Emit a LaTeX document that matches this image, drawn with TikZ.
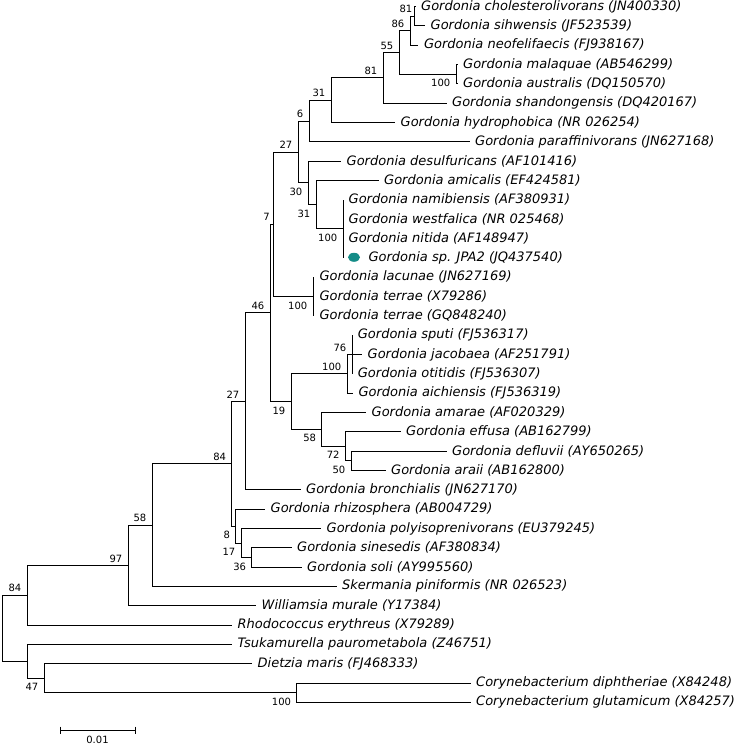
\documentclass[tikz,border=0pt]{standalone}
\usepackage{fontspec}
\setmainfont{DejaVu Sans}
\usetikzlibrary{shapes.geometric}
\definecolor{dotteal}{RGB}{20,140,135}
\newcommand{\leaffont}{\fontsize{13}{15}\selectfont\itshape}
\newcommand{\numfont}{\fontsize{10}{12}\selectfont}
\begin{document}
\begin{tikzpicture}[x=1pt,y=-1pt,
  leaf/.style={anchor=west,inner xsep=5.5pt,inner ysep=0pt,font=\leaffont},
  bsa/.style={anchor=south east,inner sep=0pt,font=\numfont,xshift=-5.5pt,yshift=3pt},
  bsb/.style={anchor=north east,inner sep=0pt,font=\numfont,xshift=-5.5pt,yshift=-5pt},
  branch/.style={draw=black,line width=0.8pt}]
\useasboundingbox (0,0) rectangle (738,745);
% internal nodes
\coordinate (n81a) at (414,16.17);
\coordinate (n86) at (410,30.66);
\coordinate (n100a) at (456,74.16);
\coordinate (n55) at (399,52.41);
\coordinate (n81b) at (383,77.78);
\coordinate (n31a) at (331,100.13);
\coordinate (n6) at (309,120.97);
\coordinate (n100b) at (343,228.8);
\coordinate (n31b) at (316,204.63);
\coordinate (n30) at (308,182.89);
\coordinate (n27a) at (298,151.93);
\coordinate (n100c) at (313,296.45);
\coordinate (n7) at (273,224.19);
\coordinate (n76) at (352,354.44);
\coordinate (n100d) at (347,373.77);
\coordinate (n50) at (351,460.76);
\coordinate (n72) at (345.3,446.26);
\coordinate (n58i) at (321.7,429.35);
\coordinate (n19) at (291,401.56);
\coordinate (n46) at (270,312.88);
\coordinate (n27b) at (245,401.31);
\coordinate (n36) at (251.7,557.41);
\coordinate (n17) at (241,542.91);
\coordinate (n8) at (235.7,526.0);
\coordinate (n84b) at (231.7,463.65);
\coordinate (n58o) at (152,525.03);
\coordinate (n97) at (128,565.38);
\coordinate (n84) at (27,595.22);
\coordinate (nC) at (296.7,692.72);
\coordinate (nD) at (44,678.22);
\coordinate (n47) at (27,661.3);
\coordinate (root) at (2,628.26);
% leaves
\node[leaf] (l1) at (415.5,6.5) {Gordonia cholesterolivorans (JN400330)};
\node[leaf] (l2) at (425,25.83) {Gordonia sihwensis (JF523539)};
\node[leaf] (l3) at (418.3,45.16) {Gordonia neofelifaecis (FJ938167)};
\node[leaf] (l4) at (457.5,64.49) {Gordonia malaquae (AB546299)};
\node[leaf] (l5) at (457.5,83.82) {Gordonia australis (DQ150570)};
\node[leaf] (l6) at (446.5,103.15) {Gordonia shandongensis (DQ420167)};
\node[leaf] (l7) at (395,122.48) {Gordonia hydrophobica (NR 026254)};
\node[leaf] (l8) at (469.5,141.81) {Gordonia paraffinivorans (JN627168)};
\node[leaf] (l9) at (341,161.14) {Gordonia desulfuricans (AF101416)};
\node[leaf] (l10) at (378.5,180.47) {Gordonia amicalis (EF424581)};
\node[leaf] (l11) at (343,199.8) {Gordonia namibiensis (AF380931)};
\node[leaf] (l12) at (343,219.13) {Gordonia westfalica (NR 025468)};
\node[leaf] (l13) at (343,238.46) {Gordonia nitida (AF148947)};
\coordinate (e14) at (343,257.79);
\node[ellipse,fill=dotteal,minimum width=12pt,minimum height=9pt,inner sep=0pt] (dot) at (354,257.3) {};
\node[leaf,inner xsep=0pt] (l14) at (368.3,257.79) {Gordonia sp. JPA2 (JQ437540)};
\node[leaf] (l15) at (313.8,277.12) {Gordonia lacunae (JN627169)};
\node[leaf] (l16) at (313.8,296.45) {Gordonia terrae (X79286)};
\node[leaf] (l17) at (313.8,315.78) {Gordonia terrae (GQ848240)};
\node[leaf] (l18) at (352.2,335.11) {Gordonia sputi (FJ536317)};
\node[leaf] (l19) at (362,354.44) {Gordonia jacobaea (AF251791)};
\node[leaf] (l20) at (352.2,373.77) {Gordonia otitidis (FJ536307)};
\node[leaf] (l21) at (352.8,393.1) {Gordonia aichiensis (FJ536319)};
\node[leaf] (l22) at (366,412.43) {Gordonia amarae (AF020329)};
\node[leaf] (l23) at (400.5,431.76) {Gordonia effusa (AB162799)};
\node[leaf] (l24) at (446.5,451.09) {Gordonia defluvii (AY650265)};
\node[leaf] (l25) at (385.5,470.42) {Gordonia araii (AB162800)};
\node[leaf] (l26) at (300.5,489.75) {Gordonia bronchialis (JN627170)};
\node[leaf] (l27) at (265,509.08) {Gordonia rhizosphera (AB004729)};
\node[leaf] (l28) at (321,528.41) {Gordonia polyisoprenivorans (EU379245)};
\node[leaf] (l29) at (291.5,547.74) {Gordonia sinesedis (AF380834)};
\node[leaf] (l30) at (301.5,567.07) {Gordonia soli (AY995560)};
\node[leaf] (l31) at (336.5,586.4) {Skermania piniformis (NR 026523)};
\node[leaf] (l32) at (256,605.73) {Williamsia murale (Y17384)};
\node[leaf] (l33) at (232,625.06) {Rhodococcus erythreus (X79289)};
\node[leaf] (l34) at (232,644.39) {Tsukamurella paurometabola (Z46751)};
\node[leaf] (l35) at (252,663.72) {Dietzia maris (FJ468333)};
\node[leaf] (l36) at (470.5,683.05) {Corynebacterium diphtheriae (X84248)};
\node[leaf] (l37) at (470.5,702.38) {Corynebacterium glutamicum (X84257)};
% branches
\draw[branch] (n81a) |- (l1.west) (n81a) |- (l2.west);
\draw[branch] (n86) |- (n81a) (n86) |- (l3.west);
\draw[branch] (n100a) |- (l4.west) (n100a) |- (l5.west);
\draw[branch] (n55) |- (n86) (n55) |- (n100a);
\draw[branch] (n81b) |- (n55) (n81b) |- (l6.west);
\draw[branch] (n31a) |- (n81b) (n31a) |- (l7.west);
\draw[branch] (n6) |- (n31a) (n6) |- (l8.west);
\draw[branch] (n100b) |- (l11.west) (n100b) |- (l12.west) (n100b) |- (l13.west) (n100b) |- (e14);
\draw[branch] (n31b) |- (l10.west) (n31b) |- (n100b);
\draw[branch] (n30) |- (l9.west) (n30) |- (n31b);
\draw[branch] (n27a) |- (n6) (n27a) |- (n30);
\draw[branch] (n100c) |- (l15.west) (n100c) |- (l16.west) (n100c) |- (l17.west);
\draw[branch] (n7) |- (n27a) (n7) |- (n100c);
\draw[branch] (n76) |- (l18.west) (n76) |- (l19.west) (n76) |- (l20.west);
\draw[branch] (n100d) |- (n76) (n100d) |- (l21.west);
\draw[branch] (n50) |- (l24.west) (n50) |- (l25.west);
\draw[branch] (n72) |- (l23.west) (n72) |- (n50);
\draw[branch] (n58i) |- (l22.west) (n58i) |- (n72);
\draw[branch] (n19) |- (n100d) (n19) |- (n58i);
\draw[branch] (n46) |- (n7) (n46) |- (n19);
\draw[branch] (n27b) |- (n46) (n27b) |- (l26.west);
\draw[branch] (n36) |- (l29.west) (n36) |- (l30.west);
\draw[branch] (n17) |- (l28.west) (n17) |- (n36);
\draw[branch] (n8) |- (l27.west) (n8) |- (n17);
\draw[branch] (n84b) |- (n27b) (n84b) |- (n8);
\draw[branch] (n58o) |- (n84b) (n58o) |- (l31.west);
\draw[branch] (n97) |- (n58o) (n97) |- (l32.west);
\draw[branch] (n84) |- (n97) (n84) |- (l33.west);
\draw[branch] (nC) |- (l36.west) (nC) |- (l37.west);
\draw[branch] (nD) |- (l35.west) (nD) |- (nC);
\draw[branch] (n47) |- (l34.west) (n47) |- (nD);
\draw[branch] (root) |- (n84) (root) |- (n47);
% bootstrap values
\node[bsa,xshift=4pt] (b81a) at (n81a) {81};
\node[bsa] (b86) at (n86) {86};
\node[bsa] (b55) at (n55) {55};
\node[bsa] (b81b) at (n81b) {81};
\node[bsa] (b31a) at (n31a) {31};
\node[bsa] (b6) at (n6) {6};
\node[bsa] (b27a) at (n27a) {27};
\node[bsa,xshift=2.5pt] (b7) at (n7) {7};
\node[bsa] (b46) at (n46) {46};
\node[bsa] (b76) at (n76) {76};
\node[bsa] (b100d) at (n100d) {100};
\node[bsa] (b27b) at (n27b) {27};
\node[bsa] (b84b) at (n84b) {84};
\node[bsa] (b58o) at (n58o) {58};
\node[bsa] (b97) at (n97) {97};
\node[bsa] (b84) at (n84) {84};
\node[bsb] (b100a) at (n100a) {100};
\node[bsb] (b30) at (n30) {30};
\node[bsb] (b31b) at (n31b) {31};
\node[bsb] (b100b) at (n100b) {100};
\node[bsb] (b100c) at (n100c) {100};
\node[bsb] (b19) at (n19) {19};
\node[bsb] (b58i) at (n58i) {58};
\node[bsb] (b72) at (n72) {72};
\node[bsb] (b50) at (n50) {50};
\node[bsb] (b8) at (n8) {8};
\node[bsb] (b17) at (n17) {17};
\node[bsb] (b36) at (n36) {36};
\node[bsb] (b47) at (nD) {47};
\node[bsb] (b100e) at (nC) {100};
% scale bar
\coordinate (sb1) at (60,730);
\coordinate (sb2) at (135,730);
\draw[branch] (sb1) -- (sb2);
\draw[branch] ([yshift=3.5pt]sb1) -- ([yshift=-3.5pt]sb1);
\draw[branch] ([yshift=3.5pt]sb2) -- ([yshift=-3.5pt]sb2);
\node[font=\numfont,inner sep=0pt,anchor=north] (sbl) at (97.5,735.5) {0.01};
\end{tikzpicture}
\end{document}
